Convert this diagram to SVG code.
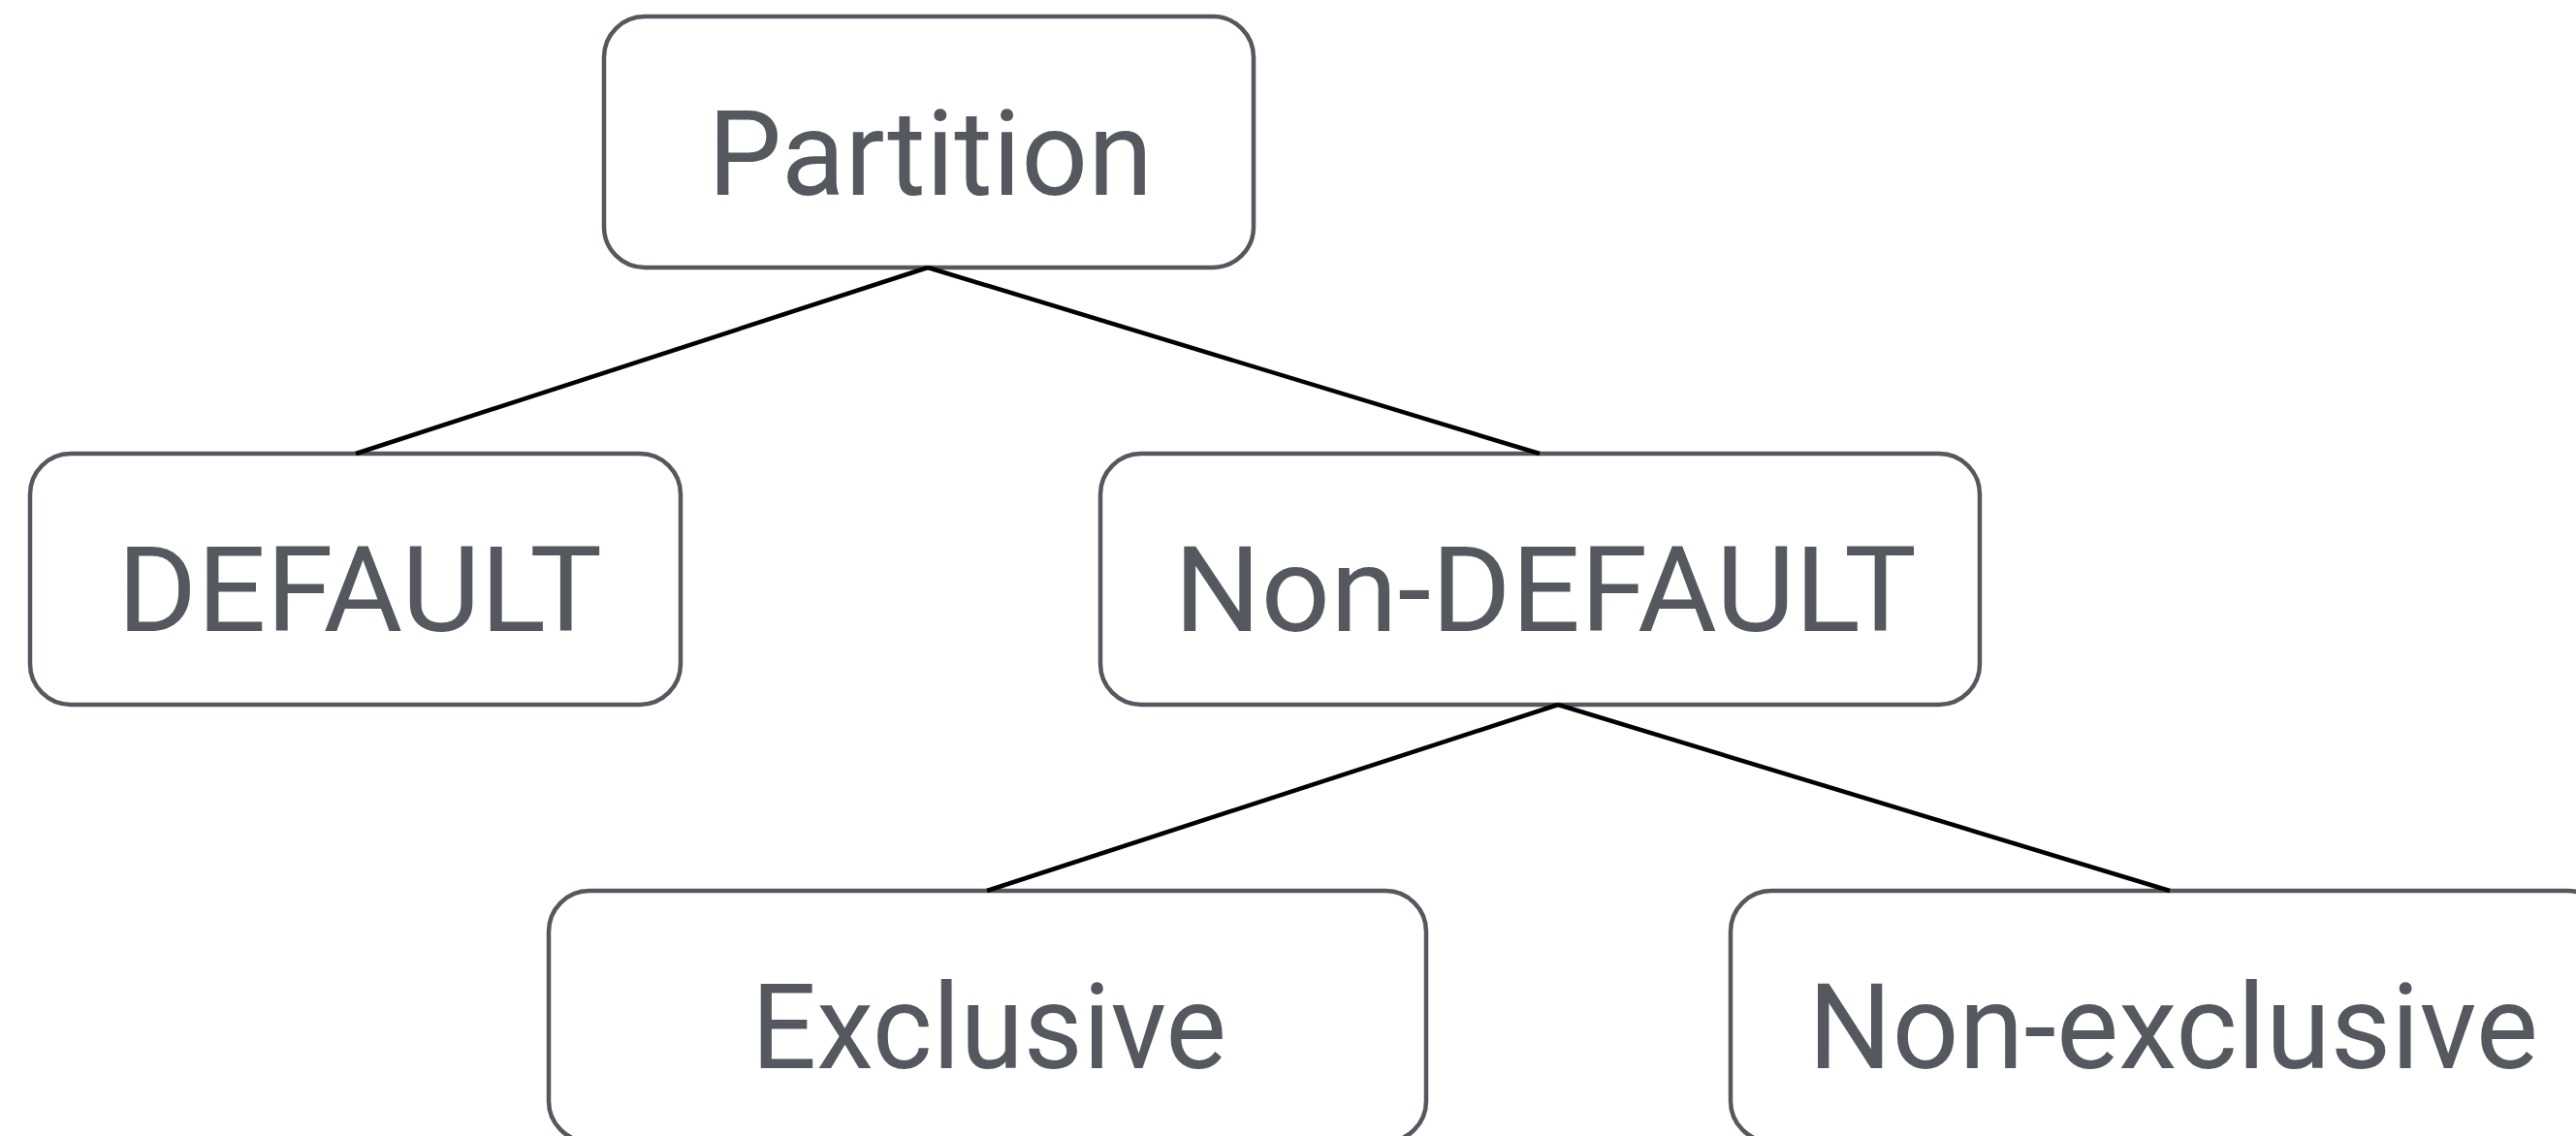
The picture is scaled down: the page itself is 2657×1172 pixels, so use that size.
<svg xmlns="http://www.w3.org/2000/svg" width="2657" height="1172" viewBox="0 0 2657 1172">
  <style>
    .box { fill: #ffffff; stroke: #55585e; stroke-width: 4.5; }
    .label { fill: #55585e; font-family: Roboto, "Liberation Sans", sans-serif; font-weight: 400; font-size: 122px; text-anchor: middle; }
    .edge { stroke: #000000; stroke-width: 4.5; fill: none; }
  </style>
  <rect width="2657" height="1172" fill="#ffffff"/>

  <g id="node-partition">
    <rect class="box" x="623" y="17" width="670" height="259" rx="42" ry="42"/>
    <text class="label" x="959.5" y="201" textLength="459" lengthAdjust="spacingAndGlyphs">Partition</text>
  </g>

  <g id="node-default">
    <rect class="box" x="31" y="468" width="671" height="259" rx="42" ry="42"/>
    <text class="label" x="371" y="651" textLength="500" lengthAdjust="spacingAndGlyphs">DEFAULT</text>
  </g>

  <g id="node-non-default">
    <rect class="box" x="1135" y="468" width="907" height="259" rx="42" ry="42"/>
    <text class="label" x="1594" y="651" textLength="766" lengthAdjust="spacingAndGlyphs">Non-DEFAULT</text>
  </g>

  <g id="node-exclusive">
    <rect class="box" x="566" y="919" width="905" height="259" rx="42" ry="42"/>
    <text class="label" x="1020" y="1102" textLength="490" lengthAdjust="spacingAndGlyphs">Exclusive</text>
  </g>

  <g id="node-non-exclusive">
    <rect class="box" x="1785" y="919" width="905" height="259" rx="42" ry="42"/>
    <text class="label" x="2241.5" y="1102" textLength="753" lengthAdjust="spacingAndGlyphs">Non-exclusive</text>
  </g>

  <g id="connectors">
    <line class="edge" x1="957" y1="276" x2="367" y2="468"/>
    <line class="edge" x1="957" y1="276" x2="1588" y2="468"/>
    <line class="edge" x1="1607" y1="727" x2="1018" y2="919"/>
    <line class="edge" x1="1607" y1="727" x2="2238" y2="919"/>
  </g>
</svg>
